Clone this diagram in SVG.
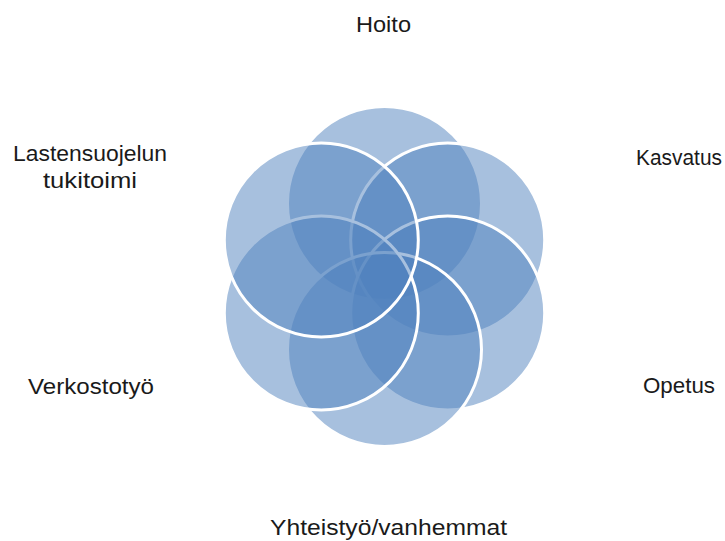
<svg xmlns="http://www.w3.org/2000/svg" width="725" height="541" viewBox="0 0 725 541">
<style>
.c{fill:#4F81BD;fill-opacity:0.5;stroke:#FFFFFF;stroke-width:3}
.t{font-family:"Liberation Sans",Arial,sans-serif;font-size:22px;fill:#1a1a1a;text-anchor:middle}
</style>
<rect width="725" height="541" fill="#FFFFFF"/>
<g id="hoito"><circle class="c" cx="384.5" cy="203.5" r="97"/><text class="t" x="383.5" y="31.5" textLength="55" lengthAdjust="spacingAndGlyphs">Hoito</text></g>
<g id="kasvatus"><circle class="c" cx="447.7" cy="240" r="97"/><text class="t" x="679" y="165" textLength="86" lengthAdjust="spacingAndGlyphs">Kasvatus</text></g>
<g id="opetus"><circle class="c" cx="447.7" cy="313" r="97"/><text class="t" x="679" y="393" textLength="72" lengthAdjust="spacingAndGlyphs">Opetus</text></g>
<g id="yhteistyo"><circle class="c" cx="384.5" cy="349.5" r="97"/><text class="t" x="388.5" y="535" textLength="237" lengthAdjust="spacingAndGlyphs">Yhteistyö/vanhemmat</text></g>
<g id="verkostotyo"><circle class="c" cx="321.3" cy="313" r="97"/><text class="t" x="91" y="394" textLength="126" lengthAdjust="spacingAndGlyphs">Verkostotyö</text></g>
<g id="lastensuojelu"><circle class="c" cx="321.3" cy="240" r="97"/><text class="t" x="90" y="160.5" textLength="154" lengthAdjust="spacingAndGlyphs">Lastensuojelun</text><text class="t" x="90" y="188" textLength="94" lengthAdjust="spacingAndGlyphs">tukitoimi</text></g>
<g id="connectors"></g>
</svg>
